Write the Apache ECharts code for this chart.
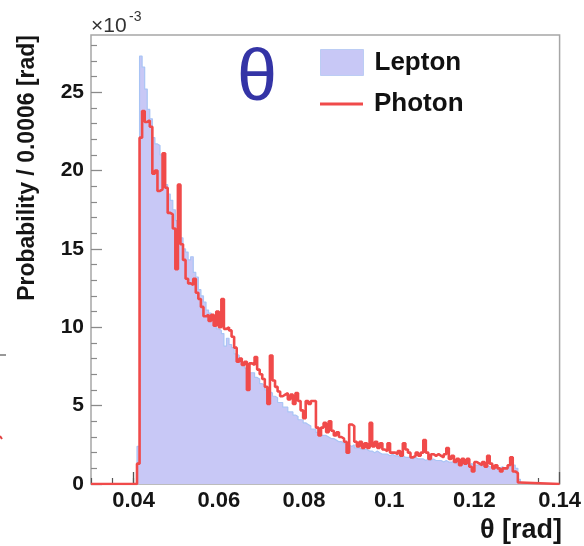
<!DOCTYPE html>
<html>
<head>
<meta charset="utf-8">
<script src="https://cdn.jsdelivr.net/npm/echarts@6/dist/echarts.min.js"></script>
<style>
html,body{margin:0;padding:0;background:#fff;}
#chart{width:584px;height:546px;}
</style>
</head>
<body>
<div id="chart"></div>
<script>
// ---- data ----
const binStart = 0.0408;     // left edge of first bin [rad]
const binWidth = 0.0006;     // bin width [rad]

const leptonValues = [
  2.4, 27.3, 26.6, 25.2, 23.9, 23.3, 22.1, 21.7, 21.6, 21.0,
  20.3, 19.1, 18.5, 18.1, 17.5, 16.8, 16.1, 15.7, 15.0, 14.8,
  14.3, 14.5, 13.5, 13.2, 12.4, 12.0, 11.6, 11.1, 10.9, 10.6,
  10.3, 9.9, 9.8, 9.6, 8.8, 9.3, 8.9, 8.7, 8.3, 8.2,
  7.8, 7.7, 7.4, 7.3, 7.1, 7.1, 6.8, 6.7, 6.4, 6.3,
  6.0, 5.9, 5.8, 5.6, 5.5, 5.2, 5.2, 4.9, 4.9, 4.6,
  4.6, 4.4, 4.3, 4.1, 4.1, 3.9, 3.8, 3.7, 3.5, 3.5,
  3.3, 3.3, 3.1, 3.1, 3.0, 2.9, 2.9, 2.8, 2.7, 2.7,
  2.6, 2.5, 2.5, 2.4, 2.5, 2.3, 2.3, 2.2, 2.2, 2.2,
  2.1, 2.1, 2.0, 2.1, 2.0, 1.9, 1.9, 1.9, 1.8, 1.9,
  1.8, 1.8, 1.7, 1.8, 1.7, 1.7, 1.7, 1.6, 1.7, 1.6,
  1.6, 1.6, 1.5, 1.6, 1.5, 1.6, 1.5, 1.5, 1.5, 1.4,
  1.5, 1.4, 1.4, 1.4, 1.3, 1.4, 1.3, 1.3, 1.3, 1.2,
  1.3, 1.2, 1.2, 1.2, 1.2, 1.1, 1.2, 1.1, 1.1, 1.1,
  1.1, 1.0, 1.1, 1.0, 1.0, 1.1, 1.4, 1.2, 1.0, 0.3
];

const photonValues = [
  1.3, 22.1, 23.8, 23.1, 23.2, 22.8, 19.8, 20.0, 18.7, 18.8,
  21.1, 18.9, 17.3, 17.2, 16.3, 13.7, 19.1, 15.3, 14.3, 13.1,
  12.8, 12.7, 13.1, 12.2, 11.8, 11.3, 10.7, 10.8, 10.4, 10.8,
  10.1, 11.0, 10.0, 11.8, 9.9, 10.0, 9.8, 9.4, 8.7, 7.8,
  8.0, 7.6, 7.8, 6.0, 7.7, 7.6, 8.1, 7.3, 7.0, 6.7,
  6.2, 5.1, 8.2, 6.6, 6.2, 5.9, 5.6, 5.7, 5.8, 5.4,
  5.7, 5.1, 5.8, 5.3, 4.7, 4.2, 5.3, 5.1, 5.3, 5.3,
  3.6, 3.1, 3.6, 3.9, 3.3, 4.0, 3.4, 3.1, 3.3, 3.0,
  2.9, 2.7, 2.0, 3.8, 3.7, 2.7, 2.4, 2.7, 2.3, 2.6,
  2.3, 3.9, 2.4, 2.7, 2.3, 2.6, 2.2, 2.1, 2.6, 2.0,
  2.0, 1.9, 2.1, 1.8, 2.6, 2.2, 2.0, 1.7, 1.8, 2.0,
  1.8, 2.0, 2.8, 2.0, 1.6, 1.9, 1.8, 1.9, 1.8, 1.7,
  1.9, 2.3, 1.6, 1.8, 1.4, 1.6, 1.2, 1.6, 1.3, 1.6,
  1.1, 0.8, 1.4, 1.3, 1.2, 1.4, 1.1, 1.8, 1.3, 1.0,
  1.2, 1.0, 0.8, 1.0, 1.0, 1.2, 1.7, 0.8, 0.7, 0.1
];

const xMin = 0.03, xMax = 0.14;
const yMin = 0, yMax = 28.65;
const xMajorTicks = [0.04, 0.06, 0.08, 0.1, 0.12, 0.14];
const xMinorTicks = [0.03, 0.035, 0.04, 0.045, 0.05, 0.055, 0.06, 0.065, 0.07, 0.075,
  0.08, 0.085, 0.09, 0.095, 0.1, 0.105, 0.11, 0.115, 0.12, 0.125, 0.13, 0.135];
const yMajorTicks = [0, 5, 10, 15, 20, 25];
const yMinorTicks = [1, 2, 3, 4, 6, 7, 8, 9, 11, 12, 13, 14, 16, 17, 18, 19, 21, 22, 23, 24, 26, 27, 28];

const seriesNames = ['Lepton', 'Photon'];
const xTitle = 'θ [rad]';
const yTitle = 'Probability / 0.0006 [rad]';

// ---- build histogram step data ----
function histPoints(values, padAxis) {
  const pts = [];
  if (padAxis) pts.push([xMin, 0]);
  pts.push([binStart, 0]);
  values.forEach((v, i) => pts.push([+(binStart + i * binWidth).toFixed(5), v]));
  pts.push([+(binStart + values.length * binWidth).toFixed(5), 0]);
  if (padAxis) pts.push([xMax, 0]);
  return pts;
}

const FONT = 'Liberation Sans, Arial, sans-serif';
const chart = echarts.init(document.getElementById('chart'), null, {renderer: 'canvas'});

const fmtX = v => String(+v.toFixed(3));

chart.setOption({
  animation: false,
  backgroundColor: '#ffffff',
  grid: {left: 91, right: 20, top: 35, bottom: 62, show: true,
         borderColor: '#a6a6a6', borderWidth: 1.5, backgroundColor: 'transparent'},
  xAxis: [
    {type: 'value', min: xMin, max: xMax, position: 'bottom',
     axisLine: {show: false}, splitLine: {show: false},
     axisTick: {show: true, inside: true, length: 12, customValues: xMajorTicks,
                lineStyle: {color: '#555', width: 1.3}},
     axisLabel: {show: true, customValues: xMajorTicks, formatter: fmtX, margin: 6,
                 fontFamily: FONT, fontWeight: 'bold', fontSize: 22, color: '#151515'}},
    {type: 'value', min: xMin, max: xMax, position: 'bottom',
     axisLine: {show: false}, splitLine: {show: false},
     axisTick: {show: true, inside: true, length: 6, customValues: xMinorTicks,
                lineStyle: {color: '#555', width: 1.2}},
     axisLabel: {show: false}}
  ],
  yAxis: [
    {type: 'value', min: yMin, max: yMax, position: 'left',
     axisLine: {show: false}, splitLine: {show: false},
     axisTick: {show: true, inside: true, length: 11, customValues: yMajorTicks,
                lineStyle: {color: '#8a8a8a', width: 1.3}},
     axisLabel: {show: true, customValues: yMajorTicks, margin: 7,
                 fontFamily: FONT, fontWeight: 'bold', fontSize: 21, color: '#151515'}},
    {type: 'value', min: yMin, max: yMax, position: 'left',
     axisLine: {show: false}, splitLine: {show: false},
     axisTick: {show: true, inside: true, length: 6, customValues: yMinorTicks,
                lineStyle: {color: '#8a8a8a', width: 1.2}},
     axisLabel: {show: false}}
  ],
  legend: [
    {data: [{name: seriesNames[0], icon: 'rect',
             itemStyle: {color: '#c8c8f6', borderColor: '#bccdf4', borderWidth: 1}}],
     left: 320, top: 49, padding: 0, itemWidth: 43, itemHeight: 26, selectedMode: false,
     textStyle: {fontFamily: FONT, fontWeight: 'bold', fontSize: 26, color: '#111', padding: [0, 0, 0, 6]}},
    {data: [{name: seriesNames[1], icon: 'rect', itemStyle: {color: '#f04a4a'}}],
     left: 320, top: 91, padding: 0, itemWidth: 43, itemHeight: 3, selectedMode: false,
     textStyle: {fontFamily: FONT, fontWeight: 'bold', fontSize: 26, color: '#111', padding: [0, 0, 0, 6]}}
  ],
  series: [
    {name: seriesNames[0], type: 'line', step: 'end', showSymbol: false,
     xAxisIndex: 0, yAxisIndex: 0, z: 2,
     data: histPoints(leptonValues, false),
     lineStyle: {color: '#a9c4f5', width: 1.2},
     itemStyle: {color: '#c8c8f6'},
     areaStyle: {color: '#c8c8f6', opacity: 1}},
    {name: seriesNames[1], type: 'line', step: 'end', showSymbol: false,
     xAxisIndex: 0, yAxisIndex: 0, z: 3,
     data: histPoints(photonValues, true),
     lineStyle: {color: '#f04a4a', width: 2.6},
     itemStyle: {color: '#f04a4a'}}
  ],
  graphic: [
    {type: 'text', x: 257, y: 80, z: 10,
     style: {text: 'θ', fontFamily: FONT, fontSize: 72, fill: '#3434a6',
             textAlign: 'center', textVerticalAlign: 'middle'}},
    {type: 'text', x: 91, y: 26, z: 10,
     style: {text: '×10', fontFamily: FONT, fontSize: 21, fill: '#333',
             textAlign: 'left', textVerticalAlign: 'middle'}},
    {type: 'text', x: 129, y: 17, z: 10,
     style: {text: '-3', fontFamily: FONT, fontSize: 14, fill: '#333',
             textAlign: 'left', textVerticalAlign: 'middle'}},
    {type: 'text', x: 28, y: 35, rotation: Math.PI / 2, z: 10,
     style: {text: yTitle, fontFamily: FONT, fontWeight: 'bold', fontSize: 23, fill: '#151515',
             textAlign: 'right', textVerticalAlign: 'middle'}},
    {type: 'text', x: 562, y: 531, z: 10,
     style: {text: xTitle, fontFamily: FONT, fontWeight: 'bold', fontSize: 27, fill: '#151515',
             textAlign: 'right', textVerticalAlign: 'middle'}},
    {type: 'line', z: 10, shape: {x1: 0, y1: 355, x2: 6, y2: 355},
     style: {stroke: '#333', lineWidth: 1}},
    {type: 'line', z: 10, shape: {x1: 0, y1: 436, x2: 2, y2: 439},
     style: {stroke: '#e04040', lineWidth: 2}}
  ]
});
</script>
</body>
</html>
